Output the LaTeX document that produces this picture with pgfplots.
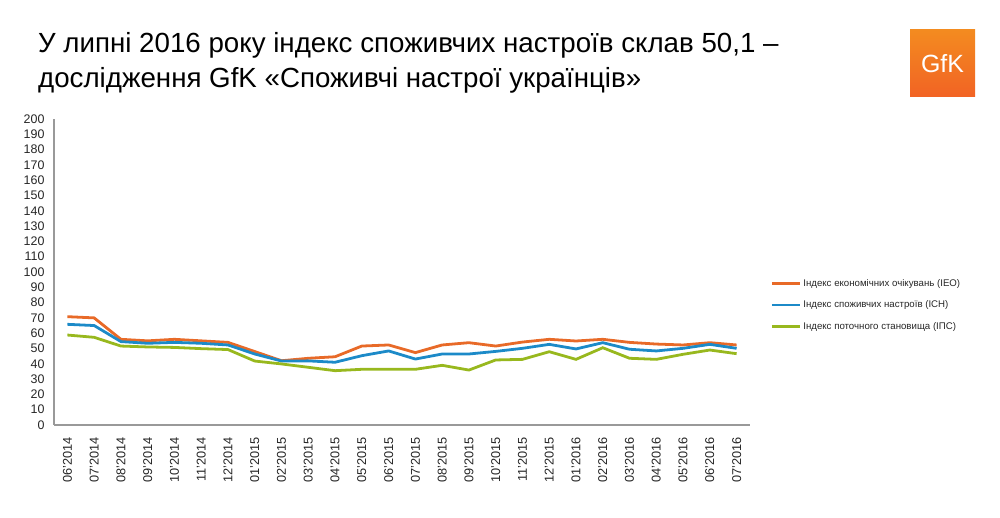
\documentclass[border=0pt]{standalone}
\usepackage{pgfplots}
\pgfplotsset{compat=1.18}
\usepackage{fontspec}
\setmainfont{Liberation Sans}

\definecolor{ieo}{RGB}{232,106,40}
\definecolor{ich}{RGB}{28,138,200}
\definecolor{ips}{RGB}{152,184,30}
\definecolor{gfk}{RGB}{240,110,40}

\begin{document}
\begin{tikzpicture}[x=1bp,y=1bp]
    \path[use as bounding box] (0,0) rectangle (1000,518);

    % title (pixel y measured from top -> 518 - y)
    \node[anchor=base west, inner sep=0, font=\fontsize{27.8}{32}\selectfont]
        at (38,465) {У липні 2016 року індекс споживчих настроїв склав 50,1 –};
    \node[anchor=base west, inner sep=0, font=\fontsize{27.8}{32}\selectfont]
        at (38,430) {дослідження GfK «Споживчі настрої українців»};

    % logo
    \shade[top color=gfk!80!yellow, bottom color=gfk!90!red] (910,421) rectangle (975,488);
    \node[text=white, font=\fontsize{25}{25}\selectfont] at (942.5,454) {GfK};

    \begin{axis}[
        at={(54bp,93bp)}, anchor=south west,
        scale only axis,
        width=696bp, height=306bp,
        xmin=-0.5, xmax=25.5,
        ymin=0, ymax=200,
        axis x line=bottom, axis y line=left,
        axis line style={draw=gray!80, line width=1.3pt, -},
        ytick={0,10,...,200},
        xtick={0,...,25},
        xticklabels={06'2014,07'2014,08'2014,09'2014,10'2014,11'2014,12'2014,
            01'2015,02'2015,03'2015,04'2015,05'2015,06'2015,07'2015,08'2015,09'2015,
            10'2015,11'2015,12'2015,01'2016,02'2016,03'2016,04'2016,05'2016,06'2016,07'2016},
        major tick length=0pt,
        /pgf/number format/assume math mode=true,
        yticklabel style={font=\fontsize{12.5}{13}\selectfont, text=black!85},
        xticklabel style={font=\fontsize{12.8}{13}\selectfont, text=black!85,
            rotate=90, anchor=east},
        xticklabel shift=9bp,
        yticklabel shift=6bp,
        legend cell align=left,
        legend style={
            at={(1.025,0.49)}, anchor=north west,
            draw=none, fill=none,
            font=\fontsize{9.7}{11}\selectfont,
            row sep=9bp,
            text=black!85,
        },
        legend image code/.code={\draw[#1] (0,0) -- (28bp,0);},
    ]
        \addplot[ieo, line width=2.8pt] coordinates {
            (0,70.8) (1,70) (2,56) (3,55) (4,56) (5,55) (6,54) (7,48) (8,42) (9,43.6)
            (10,44.6) (11,51.6) (12,52.3) (13,47.3) (14,52.3) (15,53.8) (16,51.6) (17,54.2)
            (18,56) (19,54.9) (20,56) (21,54) (22,52.9) (23,52.3) (24,53.8) (25,52.3)
        };
        \addlegendentry{Індекс економічних очікувань (IEO)}
        \addplot[ich, line width=2.8pt] coordinates {
            (0,65.8) (1,65) (2,54.5) (3,53.4) (4,54) (5,53.4) (6,52.3) (7,46.4) (8,41.8) (9,41.9)
            (10,41) (11,45.3) (12,48.4) (13,43.1) (14,46.4) (15,46.4) (16,48.1) (17,50.1)
            (18,52.7) (19,49.7) (20,53.8) (21,49.5) (22,48.4) (23,50.1) (24,52.7) (25,50.1)
        };
        \addlegendentry{Індекс споживчих настроїв (ІСН)}
        \addplot[ips, line width=2.8pt] coordinates {
            (0,58.8) (1,57.3) (2,51.6) (3,51) (4,50.7) (5,49.9) (6,49.3) (7,41.8) (8,39.9) (9,37.7)
            (10,35.5) (11,36.4) (12,36.4) (13,36.4) (14,39) (15,35.9) (16,42.5) (17,42.9)
            (18,47.9) (19,42.9) (20,50.5) (21,43.6) (22,42.9) (23,46.2) (24,49) (25,46.6)
        };
        \addlegendentry{Індекс поточного  становища (ІПС)}
    \end{axis}
\end{tikzpicture}
\end{document}
